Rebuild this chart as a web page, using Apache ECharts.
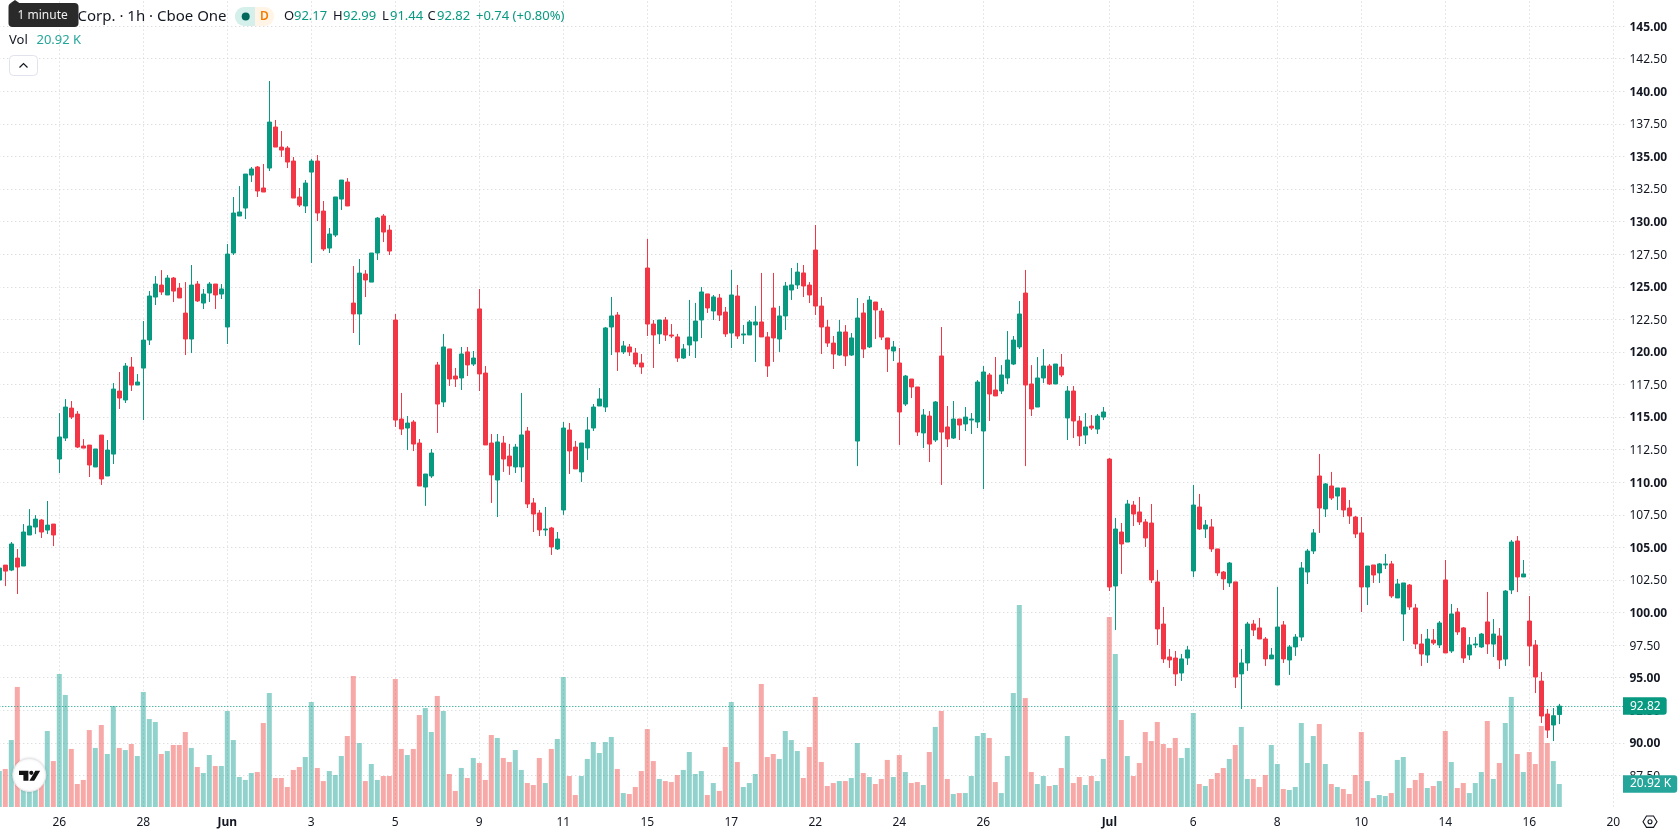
<!DOCTYPE html>
<html>
<head>
<meta charset="utf-8">
<title>Corp. 1h candles</title>
<style>
  html, body { margin: 0; padding: 0; background: #fff; }
  #chart { width: 1678px; height: 835px; }
</style>
<script src="https://cdn.jsdelivr.net/npm/echarts@6/dist/echarts.min.js"></script>
</head>
<body>
<div id="chart"></div>
<script>
// Hourly session bars, oldest first.
const opens = [
  102.49,103.64,103.26,104.18,103.57,105.95,106.56,107.10,106.33,106.79,
  111.78,113.39,115.69,115.23,112.78,112.85,111.17,113.62,110.48,112.16,
  117.00,116.31,118.84,117.46,118.76,120.91,124.21,125.13,124.37,125.67,
  124.90,122.98,120.99,125.21,123.75,124.52,125.21,124.44,121.91,127.59,
  130.43,131.04,133.57,134.19,132.58,134.11,137.26,135.72,135.65,134.65,
  131.89,131.20,133.80,134.65,130.81,127.97,128.97,131.73,133.04,123.75,
  122.91,125.98,125.36,127.59,130.43,129.35,122.45,114.85,114.16,114.62,
  113.01,109.63,110.48,119.00,116.16,120.23,118.15,118.00,120.00,119.07,
  123.30,118.38,113.01,110.17,113.01,112.01,111.17,111.17,113.93,108.41,
  107.64,106.34,106.49,104.88,107.87,114.01,112.70,110.79,112.63,114.16,
  115.85,115.77,121.91,122.83,120.00,120.38,119.92,119.15,126.44,122.14,
  121.38,122.45,121.30,121.15,119.53,120.53,120.84,122.45,124.45,123.14,
  124.14,123.06,121.45,124.29,121.30,121.30,122.07,122.30,121.15,123.37,
  120.99,122.76,124.75,125.14,126.06,125.13,127.82,123.52,121.91,120.68,
  119.76,121.53,119.76,113.16,122.99,120.38,123.83,123.14,121.07,120.07,
  119.15,116.00,117.92,117.31,113.78,115.08,113.24,119.69,114.24,113.39,
  114.85,114.47,114.77,114.62,113.93,118.23,117.08,117.00,118.00,119.07,
  120.38,124.52,117.54,115.77,118.00,118.92,117.54,118.84,114.93,117.00,
  114.70,113.62,114.31,114.08,115.00,111.78,102.04,106.18,105.41,108.25,
  107.72,106.95,106.87,102.35,99.12,96.59,96.51,95.36,96.51,103.19,
  108.10,106.41,106.57,104.88,103.11,102.27,102.35,95.29,96.13,99.12,
  98.82,97.97,96.44,94.44,99.05,96.36,97.36,98.12,103.11,104.72,
  110.48,107.95,109.71,108.94,109.56,108.02,107.33,106.11,101.96,103.65,
  103.04,103.65,103.73,101.12,99.89,102.11,100.35,97.59,96.74,97.89,
  97.51,102.50,97.05,100.04,98.82,96.74,97.51,97.36,99.28,97.58,
  98.20,96.43,101.73,105.49,102.73,99.35,97.51,94.74,92.21,91.37,92.17
];
const highs = [
  103.41,103.64,105.41,104.87,106.79,107.94,107.48,107.17,108.56,106.79,
  115.31,116.38,116.23,115.46,113.31,112.85,112.55,113.62,113.24,117.61,
  118.46,119.15,119.61,118.30,122.37,124.67,125.82,126.28,125.90,125.75,
  125.29,125.36,126.67,125.44,124.83,125.36,125.21,125.21,128.28,131.89,
  132.73,133.65,134.19,134.27,134.42,140.79,137.80,136.95,135.80,134.96,
  132.58,133.19,134.80,135.11,131.58,129.51,131.89,133.19,133.34,126.59,
  127.13,126.28,127.59,130.35,130.58,129.74,122.91,116.85,115.08,114.77,
  113.32,110.63,112.55,119.23,121.38,120.23,118.77,120.38,120.38,120.07,
  124.83,118.92,113.70,113.70,113.55,112.94,112.94,116.85,114.24,108.79,
  107.87,108.10,106.57,106.18,114.62,114.55,113.17,113.01,115.01,116.00,
  117.23,121.91,124.22,123.06,120.84,120.61,120.30,119.84,128.67,122.45,
  122.45,122.68,122.14,121.38,120.61,123.99,123.76,124.98,124.45,124.37,
  124.45,123.45,126.29,125.14,122.07,122.45,123.53,126.06,121.53,126.06,
  123.53,125.37,126.44,126.83,126.67,125.36,129.74,124.21,122.45,121.22,
  122.45,122.06,121.45,124.14,123.75,124.29,123.83,123.37,121.07,120.84,
  120.30,118.23,117.92,117.31,115.62,115.46,116.23,121.91,115.85,116.23,
  114.85,115.77,115.31,117.84,118.92,118.38,119.61,118.99,121.60,121.22,
  123.91,126.29,118.99,119.61,120.22,119.07,119.07,119.84,117.38,117.38,
  115.08,115.31,115.16,115.23,115.77,111.86,107.26,106.87,108.64,108.56,
  108.87,107.18,108.33,103.27,100.43,97.20,97.05,96.82,97.43,109.79,
  109.10,107.10,107.18,104.88,103.19,103.88,102.35,97.20,99.28,99.43,
  99.58,98.12,97.28,101.96,99.35,97.51,98.35,103.88,104.88,106.41,
  112.17,109.94,110.79,109.56,109.56,108.64,107.41,107.33,103.57,103.65,
  103.80,104.49,103.96,102.58,102.27,102.19,100.66,98.35,98.74,98.74,
  99.35,104.03,100.66,100.35,98.89,98.12,98.12,98.43,101.58,99.50,
  98.81,101.73,105.57,105.87,104.03,101.27,97.89,95.44,92.60,92.67,92.99
];
const lows = [
  102.49,102.03,103.18,101.42,103.57,105.95,106.02,105.72,106.02,105.10,
  110.71,113.16,114.85,112.62,112.62,110.40,111.17,109.79,110.48,111.40,
  115.62,116.08,117.00,117.46,114.77,120.53,123.60,124.37,124.37,123.83,
  124.14,119.76,119.91,123.83,123.29,123.83,123.29,124.06,120.61,127.44,
  130.43,130.20,133.04,131.89,132.27,133.88,135.72,134.96,134.11,131.81,
  131.12,130.66,126.82,130.04,127.74,127.59,128.82,130.89,131.20,121.45,
  120.53,124.21,125.36,127.05,128.43,127.44,114.24,113.62,112.47,112.39,
  109.71,108.18,110.33,113.78,115.77,117.39,117.31,117.08,118.15,118.92,
  117.00,112.86,108.41,107.33,110.79,110.56,110.71,110.02,108.02,106.18,
  105.87,105.87,104.42,104.80,107.49,110.63,111.02,110.02,111.71,113.93,
  115.85,115.39,119.76,118.54,119.84,119.69,118.84,118.31,121.22,118.77,
  120.61,120.84,121.07,119.23,119.46,119.69,119.53,121.07,122.99,122.45,
  122.37,121.15,120.30,120.99,120.61,121.30,119.23,121.15,118.08,119.23,
  120.00,121.68,123.99,124.83,124.21,123.75,122.83,119.84,120.38,118.69,
  119.69,118.92,119.69,111.24,119.53,120.30,120.99,120.91,118.46,119.30,
  112.86,115.85,116.46,113.55,112.63,111.55,113.09,109.79,112.70,113.32,
  113.24,113.93,113.70,114.16,109.48,114.70,116.62,116.77,117.54,118.99,
  120.22,111.24,115.08,115.77,117.61,117.46,117.54,118.07,113.24,113.39,
  112.78,112.93,114.01,113.70,114.77,101.65,98.66,102.96,105.41,106.64,
  106.72,105.03,102.27,97.51,96.13,95.75,94.36,94.75,95.98,102.73,
  106.34,105.72,104.65,102.81,101.73,101.96,94.21,92.60,95.52,98.20,
  97.97,95.90,96.44,94.44,96.13,95.21,96.67,97.82,102.19,104.49,
  106.11,107.33,108.64,107.87,107.33,106.80,105.72,100.04,100.58,102.27,
  102.27,103.34,101.12,101.12,97.82,100.20,97.20,95.90,96.13,97.51,
  97.28,96.90,96.90,98.28,96.13,96.36,97.28,97.28,96.82,96.59,
  95.67,95.90,101.42,101.57,102.73,95.90,93.82,91.52,90.37,90.14,91.44
];
const closes = [
  103.41,103.18,105.26,103.49,106.18,106.64,107.17,106.18,106.71,105.95,
  113.47,115.77,115.00,112.70,112.62,111.32,112.55,110.25,112.47,117.15,
  116.46,118.92,117.46,117.69,120.91,124.29,125.21,124.60,125.67,124.67,
  124.14,120.99,125.13,123.91,124.44,125.21,124.37,124.83,127.51,130.66,
  130.74,133.65,134.04,132.35,132.27,137.64,135.72,135.49,134.57,131.81,
  131.27,132.96,134.65,130.66,127.90,129.05,131.89,133.19,131.20,122.91,
  126.05,125.52,127.59,130.27,129.20,127.74,114.77,114.08,114.54,112.93,
  109.71,110.63,112.24,116.00,120.38,117.92,117.92,119.84,119.00,119.53,
  118.31,112.86,110.56,113.09,111.78,111.25,112.70,113.63,108.33,107.56,
  106.34,106.41,105.03,105.64,114.16,112.40,111.02,113.01,114.01,115.77,
  116.39,121.84,122.76,120.00,120.46,120.00,119.07,118.84,122.14,121.30,
  122.45,121.30,121.22,119.53,120.23,121.15,122.37,124.60,123.37,124.22,
  122.83,121.38,124.37,121.22,121.38,122.30,122.30,121.15,118.92,121.07,
  122.76,125.06,125.14,126.13,125.06,124.37,123.52,121.91,120.68,119.84,
  121.53,119.69,121.07,122.60,120.22,123.98,123.22,121.14,120.22,120.38,
  115.39,118.15,117.31,113.85,115.16,112.93,116.16,113.85,113.32,114.85,
  114.39,115.00,114.85,117.69,118.46,116.77,116.62,118.23,119.38,120.91,
  122.91,117.46,115.62,118.00,118.92,117.54,119.07,118.23,117.00,114.70,
  113.55,114.24,114.16,115.08,115.39,101.96,106.41,105.26,108.33,107.56,
  106.95,105.72,102.50,98.74,96.44,96.36,95.29,96.44,97.13,108.25,
  106.41,106.72,104.88,103.04,102.58,103.80,95.05,96.13,99.12,98.66,
  97.97,96.44,96.74,98.89,96.44,97.36,98.12,103.42,104.72,106.11,
  108.02,109.87,108.79,109.56,107.87,107.41,106.03,101.96,103.57,102.88,
  103.73,103.73,101.27,102.19,102.27,100.43,97.59,96.82,97.97,97.66,
  99.20,96.90,99.89,98.51,96.51,97.51,97.59,98.35,97.59,98.35,
  96.36,101.65,105.41,102.73,102.96,97.43,95.05,92.06,90.98,92.08,92.82
];
// Traded volume per bar, in thousands.
const volumes = [
  32.7,34.6,60.9,109.2,27.6,24.6,29.1,30.6,69.1,41.8,
  121.0,101.9,52.8,20.9,24.6,70.0,53.7,74.6,48.2,91.9,
  53.7,51.8,57.3,46.4,104.6,80.0,77.3,48.2,50.9,56.4,
  56.4,68.2,53.7,36.4,30.9,47.3,37.3,37.3,87.3,60.9,
  27.3,24.6,30.9,31.8,76.4,103.7,26.4,26.4,18.2,33.7,
  36.4,45.5,95.5,35.5,23.6,32.7,29.1,46.4,64.6,119.2,
  58.2,23.6,39.1,24.6,28.2,28.2,116.4,52.8,47.3,52.8,
  83.7,90.0,68.2,101.0,87.3,30.0,14.6,35.5,26.4,44.6,
  40.0,24.6,65.5,62.8,44.6,40.9,51.8,33.7,21.8,20.0,
  44.6,21.8,52.8,61.9,118.2,28.2,10.9,28.2,43.7,59.1,
  49.1,59.1,63.7,34.6,12.7,11.8,18.2,32.7,70.9,41.8,
  25.5,23.6,22.7,29.1,33.7,50.0,30.0,32.7,10.9,21.8,
  14.6,54.6,95.5,40.9,18.2,21.8,30.0,111.9,45.5,48.2,
  43.7,69.1,60.9,50.9,26.4,54.6,100.1,40.9,19.1,21.8,
  23.6,23.6,26.4,58.2,30.9,27.3,20.9,25.5,42.8,27.3,
  47.3,31.8,21.8,22.7,20.0,50.0,72.8,87.3,25.5,11.8,
  12.7,12.7,28.2,64.6,67.3,62.8,22.7,12.7,46.4,103.7,
  183.7,99.1,31.8,20.9,28.2,19.1,20.0,35.5,64.6,21.8,
  27.3,20.0,28.2,23.6,43.7,172.8,139.2,79.1,46.4,28.2,
  40.0,68.2,60.0,77.3,57.3,53.7,62.8,44.6,53.7,85.5,
  20.9,19.1,25.5,30.9,35.5,43.7,56.4,72.8,25.5,25.5,
  18.2,29.1,56.4,39.1,16.4,15.5,18.2,76.4,40.0,64.6,
  75.5,39.1,20.9,18.2,16.4,11.8,29.1,68.2,23.6,8.2,
  10.9,10.0,12.7,42.8,45.5,17.3,24.6,30.9,17.3,19.1,
  23.6,69.1,40.9,17.3,21.8,12.7,21.8,31.8,78.2,25.5,
  40.0,76.4,100.1,48.2,31.8,50.0,39.1,73.7,58.2,41.8,20.92
];
// Session labels on the time axis and the bar slot each one sits on.
const tickSlots  = [10,24,38,52,66,80,94,108,122,136,150,164,185,199,213,227,241,255,269];
const tickLabels = ['26','28','Jun','3','5','9','11','15','17','22','24','26','Jul','6','8','10','14','16','20'];
const monthLabels = ['Jun', 'Jul'];
// Slots left empty after the last bar, up to the price scale.
const blankSlots = 11;

const UP = '#089981', DOWN = '#F23645', INK = '#131722', GRID = '#cfd1d5';
const VOL_UP = 'rgba(38,166,154,0.5)', VOL_DOWN = 'rgba(239,83,80,0.5)', VOL_TEXT = '#26A69A';
const FONT = '"Noto Sans", sans-serif';

const categories = Array.from({ length: opens.length + blankSlots }, (_, i) => String(i));
const tickBySlot = new Map(tickSlots.map((s, i) => [s, tickLabels[i]]));
const isTick = index => tickBySlot.has(index);

const last = opens.length - 1;
const lastClose = closes[last];
const lastVolume = volumes[last];
const change = lastClose - closes[last - 1];

const candles = opens.map((o, i) => [o, closes[i], lows[i], highs[i]]);
const volumeBars = volumes.map((v, i) => ({
  value: v,
  itemStyle: { color: closes[i] >= opens[i] ? VOL_UP : VOL_DOWN }
}));

// Left edge and per-slot width shared by both panes.
const slotWidth = 6;
const plotLeft = -0.7;
const plotWidth = (categories.length - 1) * slotWidth;

const hdr = (x, y, text, fill, font, z) => ({
  type: 'text', z: z || 30,
  style: { x, y, text, fill, font: font || ('13px ' + FONT), textVerticalAlign: 'middle' }
});

const headerItems = [
  hdr(77.5, 16.5, 'Corp. · 1h · Cboe One', INK, '15px ' + FONT),
  // Market status pill
  { type: 'rect', z: 30, shape: { x: 235, y: 7, width: 20, height: 19, r: [9, 0, 0, 9] }, style: { fill: '#d5efea' } },
  { type: 'rect', z: 30, shape: { x: 255, y: 7, width: 19, height: 19, r: [0, 9, 9, 0] }, style: { fill: '#fff4e5' } },
  { type: 'circle', z: 31, shape: { cx: 245.7, cy: 16.5, r: 4 }, style: { fill: '#00695c' } },
  hdr(260, 16.5, 'D', '#f57c00', '600 12px ' + FONT),
  // OHLC read-out of the last bar
  hdr(284, 16.5, 'O', INK), hdr(294, 16.5, opens[last].toFixed(2), UP),
  hdr(333, 16.5, 'H', INK), hdr(343, 16.5, highs[last].toFixed(2), UP),
  hdr(382, 16.5, 'L', INK), hdr(390, 16.5, lows[last].toFixed(2), UP),
  hdr(427.5, 16.5, 'C', INK), hdr(437, 16.5, lastClose.toFixed(2), UP),
  hdr(476, 16.5, '+' + change.toFixed(2) + ' (+' + (change / closes[last - 1] * 100).toFixed(2) + '%)', UP),
  hdr(9, 40.5, 'Vol', INK),
  hdr(36.5, 40.5, lastVolume.toFixed(2) + ' K', VOL_TEXT),
  // Collapse button
  { type: 'rect', z: 30, shape: { x: 9.5, y: 55.5, width: 28, height: 20, r: 4 }, style: { fill: '#fff', stroke: '#e0e3eb' } },
  { type: 'polyline', z: 31, shape: { points: [[19.5, 67.5], [23.5, 63.5], [27.5, 67.5]] }, style: { stroke: INK, lineWidth: 1.2, fill: 'none' } },
  // Hint bubble
  { type: 'polygon', z: 32, shape: { points: [[10, 3.5], [15, 0], [20, 3.5]] }, style: { fill: '#2a2a2a' } },
  { type: 'rect', z: 32, shape: { x: 8.5, y: 3, width: 70, height: 24, r: 4 }, style: { fill: '#2a2a2a' } },
  hdr(17.5, 15.5, '1 minute', '#f0f0f0', '12px ' + FONT, 33),
  // Brand badge
  { type: 'circle', z: 30, shape: { cx: 29.3, cy: 775, r: 16.5 }, style: { fill: '#fff', stroke: '#e6e7ea', lineWidth: 1, shadowBlur: 3, shadowColor: 'rgba(0,0,0,0.12)' } },
  { type: 'polygon', z: 31, shape: { points: [[19, 770.7], [28.4, 770.7], [28.4, 780.7], [23.4, 780.7], [23.4, 775], [19, 775]] }, style: { fill: '#111' } },
  { type: 'circle', z: 31, shape: { cx: 31.3, cy: 772.8, r: 2.1 }, style: { fill: '#111' } },
  { type: 'polygon', z: 31, shape: { points: [[35.3, 770.7], [40.2, 770.7], [34.2, 780.7], [29.4, 780.7]] }, style: { fill: '#111' } },
  // Scale settings icon
  { type: 'polygon', z: 30, shape: { points: [[1643, 821.7], [1646.5, 816], [1653.5, 816], [1657, 821.7], [1653.5, 827.4], [1646.5, 827.4]] }, style: { fill: 'none', stroke: INK, lineWidth: 1.1 } },
  { type: 'circle', z: 30, shape: { cx: 1650, cy: 821.7, r: 2 }, style: { fill: 'none', stroke: INK, lineWidth: 1.1 } }
];

const option = {
  animation: false,
  backgroundColor: '#fff',
  textStyle: { fontFamily: FONT },
  grid: [
    { left: plotLeft, width: plotWidth, top: -6.43, height: 814.43, outerBoundsMode: 'none' },
    { left: plotLeft, width: plotWidth, top: 367.2, height: 439.8, outerBoundsMode: 'none' }
  ],
  xAxis: [
    {
      type: 'category', gridIndex: 0, data: categories, boundaryGap: false,
      axisLine: { show: false }, axisTick: { show: false },
      axisLabel: {
        interval: isTick, margin: 9, color: INK, fontSize: 12, fontFamily: FONT,
        formatter: (v, i) => {
          const t = tickBySlot.get(i);
          if (t === undefined) return '';
          return monthLabels.includes(t) ? '{m|' + t + '}' : t;
        },
        rich: { m: { fontWeight: 700, fontSize: 12, color: INK, fontFamily: FONT } }
      },
      splitLine: { show: true, interval: isTick, lineStyle: { color: GRID, type: [1, 3], width: 1 } }
    },
    {
      type: 'category', gridIndex: 1, data: categories, boundaryGap: false,
      axisLine: { show: false }, axisTick: { show: false }, axisLabel: { show: false }, splitLine: { show: false }
    }
  ],
  yAxis: [
    {
      type: 'value', gridIndex: 0, position: 'right', min: 85, max: 147.5, interval: 2.5, scale: true,
      axisLine: { show: false }, axisTick: { show: false },
      axisLabel: {
        margin: 4.2, color: INK, fontSize: 12, fontFamily: FONT, padding: [2, 0, 0, 0],
        formatter: v => {
          if (v <= 85 || v >= 147.5) return '';
          const t = v.toFixed(2);
          return v % 5 === 0 ? '{b|' + t + '}' : t;
        },
        rich: { b: { fontWeight: 700, fontSize: 12, color: INK, fontFamily: FONT } }
      },
      splitLine: { show: true, showMinLine: false, lineStyle: { color: GRID, type: [1, 3], width: 1 } }
    },
    {
      type: 'value', gridIndex: 1, position: 'right', min: 0, max: 400, show: false, splitLine: { show: false }
    }
  ],
  series: [
    {
      type: 'bar', name: 'Vol', xAxisIndex: 1, yAxisIndex: 1, data: volumeBars, barWidth: 5, z: 2,
      silent: true,
      markLine: {
        silent: true, symbol: ['none', 'none'], animation: false,
        lineStyle: { width: 0, opacity: 0 },
        data: [{ yAxis: lastVolume }],
        label: {
          show: true, position: 'end', distance: -2.3, formatter: lastVolume.toFixed(2) + ' K',
          backgroundColor: VOL_TEXT, color: '#fff', fontSize: 12, fontFamily: FONT,
          padding: [3.5, 6, 2, 7], borderRadius: [0, 3, 3, 0], opacity: 1
        }
      }
    },
    {
      type: 'candlestick', name: 'Price', xAxisIndex: 0, yAxisIndex: 0, data: candles, barWidth: 4, z: 3,
      silent: true,
      itemStyle: { color: UP, color0: DOWN, borderColor: UP, borderColor0: DOWN, borderWidth: 1 },
      markLine: {
        silent: true, symbol: ['none', 'none'], animation: false,
        lineStyle: { color: UP, type: [1, 2], width: 1 },
        data: [{ yAxis: lastClose }],
        label: {
          show: true, position: 'end', distance: -2.3, formatter: lastClose.toFixed(2),
          backgroundColor: UP, color: '#fff', fontSize: 12, fontFamily: FONT,
          padding: [3.5, 6, 2, 7], borderRadius: [0, 3, 3, 0]
        }
      }
    }
  ],
  graphic: { elements: headerItems }
};

const chart = echarts.init(document.getElementById('chart'), null, { renderer: 'canvas' });
chart.setOption(option);
</script>
</body>
</html>
